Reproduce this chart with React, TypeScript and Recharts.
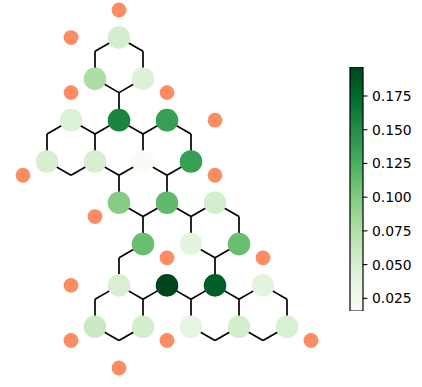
import React from 'react';
import { ScatterChart, Scatter, XAxis, YAxis, ReferenceLine, BarChart, Bar } from 'recharts';

// lattice coordinates: column (horizontal half-hex steps), row (vertical quarter-side steps)
const greenCols = [4, 3, 5, 2, 4, 6, 1, 3, 5, 7, 4, 6, 8, 5, 7, 9, 4, 6, 8, 10, 3, 5, 7, 9, 11];
const greenRows = [2, 5, 5, 8, 8, 8, 11, 11, 11, 11, 14, 14, 14, 17, 17, 17, 20, 20, 20, 20, 23, 23, 23, 23, 23];
const greenValues = [
  0.052, 0.077, 0.045,
  0.045, 0.157, 0.137,
  0.05, 0.05, 0.0156, 0.137,
  0.097, 0.115, 0.052,
  0.111, 0.039, 0.111,
  0.048, 0.1965, 0.182, 0.039,
  0.059, 0.052, 0.037, 0.052, 0.048,
];

const orangeCols = [4, 2, 2, 6, 8, 0, 8, 3, 6, 10, 2, 2, 6, 12, 4];
const orangeRows = [0, 2, 6, 6, 8, 12, 12, 15, 18, 18, 20, 24, 24, 24, 26];

// edges: [c1, r1, c2, r2]
const edges: number[][] = [
  [4, 2, 3, 3], [3, 3, 3, 5], [3, 5, 4, 6], [4, 6, 5, 5], [5, 5, 5, 3], [5, 3, 4, 2], [4, 6, 4, 8],
  [2, 8, 1, 9], [1, 9, 1, 11], [1, 11, 2, 12], [2, 12, 3, 11], [3, 11, 3, 9], [3, 9, 2, 8],
  [4, 8, 3, 9], [3, 11, 4, 12], [4, 12, 5, 11], [5, 11, 5, 9], [5, 9, 4, 8],
  [6, 8, 5, 9], [5, 11, 6, 12], [6, 12, 7, 11], [7, 11, 7, 9], [7, 9, 6, 8],
  [4, 12, 4, 14], [6, 12, 6, 14],
  [4, 14, 5, 15], [5, 15, 6, 14], [6, 14, 7, 15], [7, 15, 8, 14], [8, 14, 9, 15], [9, 15, 9, 17],
  [5, 15, 5, 17], [7, 15, 7, 17], [5, 17, 4, 18], [4, 18, 4, 20], [7, 17, 8, 18], [8, 18, 9, 17], [8, 18, 8, 20],
  [4, 20, 3, 21], [3, 21, 3, 23], [3, 23, 4, 24], [4, 24, 5, 23], [5, 23, 5, 21], [5, 21, 4, 20],
  [5, 21, 6, 20], [6, 20, 7, 21], [7, 21, 7, 23], [7, 23, 8, 24], [8, 24, 9, 23], [9, 23, 9, 21],
  [9, 21, 8, 20], [8, 20, 7, 21], [9, 21, 10, 20], [10, 20, 11, 21], [11, 21, 11, 23], [11, 23, 10, 24], [10, 24, 9, 23],
];

const colorbarTicks = [0.025, 0.05, 0.075, 0.1, 0.125, 0.15, 0.175];

const GREENS = ['#f7fcf5', '#e5f5e0', '#c7e9c0', '#a1d99b', '#74c476', '#41ab5d', '#238b45', '#006d2c', '#00441b'];

function hexToRgb(h: string) {
  const n = parseInt(h.slice(1), 16);
  return [(n >> 16) & 255, (n >> 8) & 255, n & 255];
}
function greens(t: number) {
  const tt = Math.max(0, Math.min(1, t)) * (GREENS.length - 1);
  const i = Math.min(GREENS.length - 2, Math.floor(tt));
  const f = tt - i;
  const a = hexToRgb(GREENS[i]);
  const b = hexToRgb(GREENS[i + 1]);
  const c = a.map((v, k) => Math.round(v + (b[k] - v) * f));
  return `rgb(${c[0]},${c[1]},${c[2]})`;
}

const vmin = Math.min(...greenValues);
const vmax = Math.max(...greenValues);

const greenData = greenCols.map((c, i) => ({
  c,
  r: greenRows[i],
  v: greenValues[i],
  fill: greens((greenValues[i] - vmin) / (vmax - vmin)),
}));
const orangeData = orangeCols.map((c, i) => ({ c, r: orangeRows[i] }));
const cbData = [{ name: 'cb', range: [vmin, vmax] }];

const FONT = '"DejaVu Sans", sans-serif';

export default function App() {
  return (
    <div style={{ position: 'absolute', left: 0, top: 0, width: 422, height: 387, background: '#fff' }}>
      <div style={{ position: 'absolute', left: 0, top: 0 }}>
        <ScatterChart width={422} height={387} margin={{ top: 10, right: 111, bottom: 19, left: 23 }}>
          <XAxis type="number" dataKey="c" domain={[0, 12]} hide />
          <YAxis type="number" dataKey="r" domain={[0, 26]} reversed hide />
          {edges.map((e, i) => (
            <ReferenceLine
              key={i}
              segment={[{ x: e[0], y: e[1] }, { x: e[2], y: e[3] }]}
              stroke="#000"
              strokeWidth={1.7}
              ifOverflow="visible"
            />
          ))}
          <Scatter
            data={greenData}
            isAnimationActive={false}
            shape={(p: any) => <circle cx={p.cx} cy={p.cy} r={11.3} fill={p.payload.fill} />}
          />
          <Scatter
            data={orangeData}
            isAnimationActive={false}
            shape={(p: any) => <circle cx={p.cx} cy={p.cy} r={7.4} fill="#fc8d62" />}
          />
        </ScatterChart>
      </div>
      <div style={{ position: 'absolute', left: 340, top: 0 }}>
        <BarChart width={73} height={387} data={cbData} margin={{ top: 67, bottom: 76, left: 10, right: 0 }} barCategoryGap={0}>
          <defs>
            <linearGradient id="cbgrad" x1="0" y1="1" x2="0" y2="0">
              {GREENS.map((g, i) => (
                <stop key={i} offset={`${(i / (GREENS.length - 1)) * 100}%`} stopColor={g} />
              ))}
            </linearGradient>
          </defs>
          <XAxis dataKey="name" hide />
          <YAxis
            orientation="right"
            type="number"
            domain={[vmin, vmax]}
            ticks={colorbarTicks}
            tickFormatter={(v: number) => v.toFixed(3)}
            width={50.5}
            axisLine={false}
            tickLine={{ stroke: '#000', strokeWidth: 1.1 }}
            tickSize={4.9}
            tickMargin={4.5}
            tick={{ fill: '#000', fontSize: 13.9, fontFamily: FONT }}
            allowDataOverflow
          />
          <Bar dataKey="range" fill="url(#cbgrad)" stroke="#000" strokeWidth={1.2} isAnimationActive={false} />
        </BarChart>
      </div>
    </div>
  );
}
